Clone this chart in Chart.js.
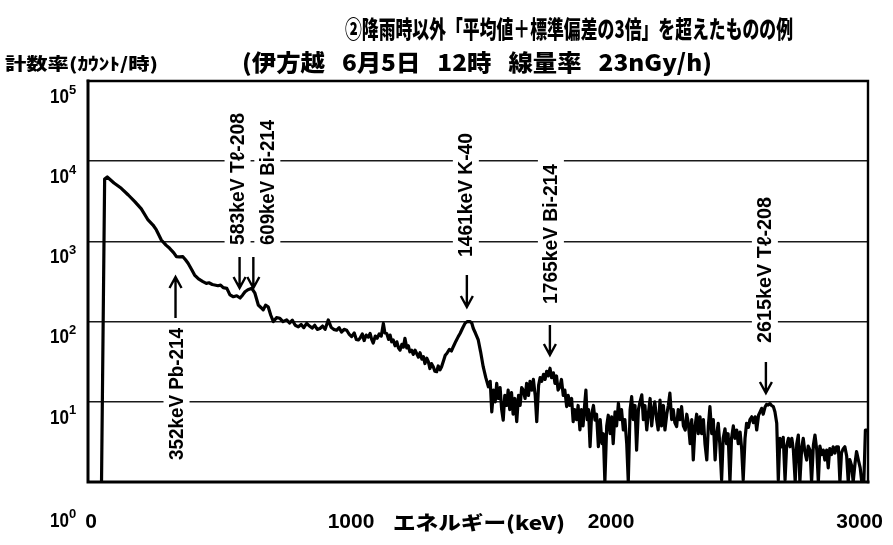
<!DOCTYPE html>
<html>
<head>
<meta charset="utf-8">
<script src="https://cdn.jsdelivr.net/npm/chart.js@4/dist/chart.umd.min.js"></script>
<style>
  html, body { margin: 0; padding: 0; background: #fff; }
  #wrap { width: 893px; height: 545px; position: relative; }
</style>
</head>
<body>
<div id="wrap"><canvas id="spectrum" width="893" height="545"></canvas></div>
<script>
// ---- text ----
const chartTitle = '②降雨時以外「平均値＋標準偏差の3倍」を超えたものの例';
const chartSubtitle = '(伊方越　6月5日　12時　線量率　23nGy/h)';
const yAxisTitle = '計数率(ｶｳﾝﾄ/時)';
const xAxisTitle = 'エネルギー(keV)';

// ---- axes ----
const xTickValues = [0, 1000, 2000, 3000];
const yTickExponents = [0, 1, 2, 3, 4, 5];

// ---- identified peaks ----
const peakNames = ['352keV Pb-214', '583keV Tℓ-208', '609keV Bi-214', '1461keV K-40', '1765keV Bi-214', '2615keV Tℓ-208'];
const peakEnergies = [352, 583, 609, 1461, 1765, 2615];

// ---- spectrum: energy (keV) and count rate (counts/h) ----
const energyKeV = [
  52, 64, 74, 100, 128, 155, 180, 205, 231, 250, 263, 282, 300, 314, 330, 340, 352, 365, 375, 385,
  398, 410, 425, 442, 455, 465, 478, 487, 500, 510, 520, 534, 546, 559, 572, 585, 595, 604, 615, 630,
  642, 655, 665, 674, 683, 693, 703, 713, 725, 738, 750, 764, 775, 786, 797, 809, 820, 830, 841, 852,
  862, 872, 882, 892, 902, 912, 924, 935, 945, 956, 966, 975, 985, 995, 1004, 1014, 1024, 1032, 1040, 1046,
  1055, 1062, 1070, 1078, 1085, 1091, 1097, 1105, 1112, 1120, 1128, 1136, 1142, 1149, 1156, 1162, 1168, 1174, 1181, 1188,
  1194, 1200, 1207, 1213, 1219, 1226, 1232, 1238, 1245, 1251, 1258, 1264, 1271, 1277, 1284, 1290, 1296, 1303, 1309, 1315,
  1321, 1328, 1334, 1341, 1347, 1354, 1360, 1368, 1374, 1380, 1390, 1398, 1405, 1415, 1424, 1431, 1440, 1450, 1458, 1469,
  1476, 1482, 1490, 1501, 1510, 1520, 1530, 1540, 1547, 1553, 1560, 1566, 1572, 1578, 1585, 1591, 1597, 1603, 1610, 1616,
  1622, 1629, 1635, 1642, 1649, 1656, 1662, 1668, 1674, 1681, 1687, 1694, 1700, 1707, 1713, 1720, 1726, 1733, 1739, 1745,
  1752, 1758, 1764, 1770, 1777, 1783, 1790, 1796, 1802, 1808, 1815, 1821, 1828, 1834, 1841, 1847, 1853, 1860, 1866, 1872,
  1879, 1885, 1892, 1898, 1904, 1910, 1915, 1920, 1925, 1931, 1937, 1944, 1950, 1956, 1963, 1970, 1977, 1982, 1988, 1995,
  2001, 2008, 2014, 2020, 2027, 2033, 2040, 2046, 2052, 2059, 2065, 2072, 2078, 2085, 2091, 2097, 2104, 2110, 2117, 2123,
  2130, 2136, 2142, 2149, 2155, 2162, 2168, 2174, 2180, 2187, 2193, 2200, 2206, 2213, 2219, 2226, 2232, 2238, 2245, 2251,
  2257, 2264, 2270, 2277, 2283, 2290, 2297, 2303, 2309, 2316, 2322, 2328, 2335, 2341, 2347, 2354, 2360, 2367, 2373, 2380,
  2386, 2392, 2399, 2405, 2412, 2418, 2424, 2430, 2437, 2443, 2450, 2456, 2462, 2469, 2475, 2482, 2488, 2495, 2501, 2508,
  2514, 2520, 2527, 2533, 2540, 2546, 2553, 2559, 2566, 2572, 2579, 2585, 2591, 2597, 2604, 2610, 2616, 2623, 2629, 2636,
  2642, 2649, 2655, 2661, 2668, 2674, 2681, 2687, 2694, 2700, 2707, 2713, 2720, 2726, 2732, 2738, 2745, 2751, 2757, 2764,
  2770, 2777, 2783, 2790, 2796, 2803, 2809, 2815, 2822, 2828, 2834, 2841, 2847, 2853, 2860, 2866, 2873, 2879, 2886, 2892,
  2898, 2905, 2911, 2918, 2924, 2930, 2937, 2943, 2950, 2956, 2963, 2970, 2976, 2984, 2990, 3000
];
const countRate = [
  1, 6000, 6350, 5350, 4590, 3790, 3130, 2540, 1850, 1600, 1390, 1040, 900, 820, 720, 645, 640, 645, 590, 533,
  450, 381, 340, 315, 300, 305, 290, 286, 280, 285, 265, 260, 215, 204, 210, 197, 215, 236, 250, 260,
  226, 161, 150, 140, 160, 153, 120, 100, 112, 110, 100, 105, 96, 104, 90, 86, 92, 84, 95, 88,
  83, 90, 80, 82, 88, 80, 105, 85, 80, 78, 84, 74, 80, 78, 70, 65, 72, 60, 59, 62,
  70, 58, 68, 64, 71, 60, 54, 66, 62, 70, 66, 95, 72, 71, 60, 68, 56, 59, 50, 56,
  47, 44, 52, 48, 62, 47, 50, 42, 44, 39, 44, 40, 36, 41, 34, 36.5, 30, 35, 31.6, 26,
  30, 27.4, 24, 23.7, 28, 25, 27.4, 33, 38, 40, 45, 43, 48.6, 57, 65, 71, 82, 95, 100, 100,
  96, 82, 72, 59, 42, 27.4, 20, 15.4, 18, 7.5, 14, 10, 17, 11, 15, 8, 5.9, 12, 9, 14,
  8, 13, 7, 11, 5.65, 12, 9, 15, 14, 11, 17, 12, 18, 14, 19, 12, 5.65, 16, 20, 18,
  22, 19, 24, 21, 26.2, 20, 23, 17, 21, 14, 15.4, 19, 12, 14, 8.7, 12, 9, 11, 5.65, 8,
  6, 9, 4.45, 8, 5, 9, 14, 6, 8, 2.75, 7, 9, 5.9, 7, 2.75, 6, 3, 4, 1, 5,
  6.8, 4, 6.5, 3, 7.5, 5, 9.6, 6, 8, 4.45, 6, 3, 1, 8, 11.6, 6, 9, 2.5, 8, 10,
  12.2, 6, 9, 4.45, 7, 11, 5, 7.9, 10, 6, 4.45, 10.5, 5, 9, 4.45, 7, 9, 12.8, 6, 8,
  5.5, 4.9, 8, 6, 8.7, 5, 4.45, 7, 5.4, 3, 6, 1.88, 5, 7, 4, 6.5, 4, 6, 3, 1.88,
  5, 8.7, 4, 6, 1.88, 4, 5.4, 3, 1.06, 3.5, 4.6, 3, 4, 1, 3.5, 5, 3.5, 4.45, 3, 4.2,
  2.6, 1.06, 3.5, 5.4, 4.8, 6, 6.5, 5.5, 6.5, 4.45, 6.8, 7.5, 8.3, 7, 8.6, 9.3, 9.1, 9.5, 9, 8.7,
  7.5, 5.4, 1.06, 3.5, 2.75, 3.6, 1.06, 2.8, 3.5, 2.75, 3.5, 2.5, 1, 3, 3.85, 1, 2.7, 3.5, 2.4, 1.88,
  2.8, 2.5, 1, 2.9, 3.85, 2.5, 1, 2.8, 2.2, 2.5, 1.88, 2.5, 1.5, 2.6, 2.2, 2.75, 2.3, 2.75, 2.75, 1,
  2.3, 2.6, 2.75, 2.1, 1, 1.9, 1.6, 1, 1.7, 2.4, 1.88, 1.5, 1, 1, 4.45, 4.45
];

// ---- drawing helpers ----
const INK = '#000';
const CJK = '"Noto Sans CJK JP", "Noto Sans", sans-serif';
const LATIN = '"Liberation Sans", Arial, sans-serif';

// draw text squeezed/stretched to a given width, left edge at x, vertical middle at y
function fitText(ctx, text, x, y, width) {
  const w = ctx.measureText(text).width;
  ctx.save();
  ctx.translate(x, y);
  ctx.scale(width / w, 1);
  ctx.textAlign = 'left';
  ctx.textBaseline = 'middle';
  ctx.fillText(text, 0, 0);
  ctx.restore();
}

// same, but the space-separated groups are laid out with a fixed gap between them
function fitGroups(ctx, text, sep, x, y, width, gap) {
  const parts = text.split(sep);
  const widths = parts.map(p => ctx.measureText(p).width);
  const total = widths.reduce((s, w) => s + w, 0);
  const k = (width - gap * (parts.length - 1)) / total;
  let cx = x;
  parts.forEach((p, i) => {
    ctx.save();
    ctx.translate(cx, y);
    ctx.scale(k, 1);
    ctx.textAlign = 'left';
    ctx.textBaseline = 'middle';
    ctx.fillText(p, 0, 0);
    ctx.restore();
    cx += widths[i] * k + gap;
  });
}

function drawArrow(ctx, x, yFrom, yTo) {
  const dir = Math.sign(yTo - yFrom);
  ctx.beginPath();
  ctx.moveTo(x, yFrom);
  ctx.lineTo(x, yTo);
  ctx.moveTo(x - 6, yTo - dir * 11);
  ctx.lineTo(x, yTo);
  ctx.lineTo(x + 6, yTo - dir * 11);
  ctx.stroke();
}

// label placement for each peak: pixel nudges, text foot, text length and arrow span
const peakLayout = [
  { dxArrow: -4, dxText: -3, textBottom: 460, textLen: 132, arrowFrom: 318, arrowTo: 277 },
  { dxArrow: 0,  dxText: -2, textBottom: 245, textLen: 132, arrowFrom: 257, arrowTo: 288 },
  { dxArrow: 7,  dxText: 21, textBottom: 245, textLen: 125, arrowFrom: 257, arrowTo: 288 },
  { dxArrow: -1, dxText: -2, textBottom: 257, textLen: 124, arrowFrom: 275, arrowTo: 307 },
  { dxArrow: 3,  dxText: 4,  textBottom: 304, textLen: 140, arrowFrom: 325, arrowTo: 355 },
  { dxArrow: -2, dxText: -3, textBottom: 343, textLen: 146, arrowFrom: 362, arrowTo: 393 }
];

const decorPlugin = {
  id: 'decor',
  afterDatasetsDraw(chart) {
    const { ctx, chartArea: a, scales } = chart;
    const xs = scales.x, ys = scales.y;
    ctx.save();
    ctx.fillStyle = INK;
    ctx.strokeStyle = INK;

    // peak annotations (rotated, reading upward, on a white backing)
    ctx.font = 'bold 20px ' + LATIN;
    peakNames.forEach((name, i) => {
      const L = peakLayout[i];
      const px = xs.getPixelForValue(peakEnergies[i]);
      const tx = px + L.dxText;
      const k = L.textLen / ctx.measureText(name).width;
      ctx.fillStyle = '#fff';
      ctx.fillRect(tx - 13, L.textBottom - L.textLen - 4, 26, L.textLen + 8);
      ctx.fillStyle = INK;
      ctx.save();
      ctx.translate(tx, L.textBottom);
      ctx.rotate(-Math.PI / 2);
      ctx.scale(k, 1);
      ctx.textAlign = 'left';
      ctx.textBaseline = 'middle';
      ctx.fillText(name, 0, 1);
      ctx.restore();
      ctx.lineWidth = 2.4;
      drawArrow(ctx, px + L.dxArrow, L.arrowFrom, L.arrowTo);
    });

    // plot frame
    ctx.lineCap = 'square';
    ctx.lineWidth = 3;
    ctx.beginPath();
    ctx.moveTo(a.left, a.top); ctx.lineTo(a.left, a.bottom); ctx.lineTo(a.right, a.bottom);
    ctx.stroke();
    ctx.lineWidth = 2.4;
    ctx.beginPath();
    ctx.moveTo(a.left, a.top); ctx.lineTo(a.right, a.top); ctx.lineTo(a.right, a.bottom);
    ctx.stroke();

    // y tick labels (10^k)
    yTickExponents.forEach(k => {
      let y = ys.getPixelForValue(Math.pow(10, k)) + 16;
      if (k === 0) y = 521;
      ctx.font = 'bold 21px ' + LATIN;
      fitText(ctx, '10', 50, y, 19);
      ctx.font = 'bold 13px ' + LATIN;
      ctx.textAlign = 'left';
      ctx.textBaseline = 'middle';
      ctx.fillText(String(k), 69, y - 7);
    });

    // x tick labels
    ctx.font = 'bold 21px ' + LATIN;
    ctx.textAlign = 'center';
    ctx.textBaseline = 'middle';
    xTickValues.forEach(v => {
      let x = xs.getPixelForValue(v) + 3;
      const w = ctx.measureText(String(v)).width;
      if (x + w / 2 > 883) x = 883 - w / 2;
      ctx.fillText(String(v), x, 522);
    });

    // titles
    ctx.font = '900 24px ' + CJK;
    fitText(ctx, chartTitle, 345, 29, 448);
    ctx.font = '900 23px ' + CJK;
    fitGroups(ctx, chartSubtitle, '　', 242, 62, 470, 17);
    ctx.font = '900 17px ' + CJK;
    fitText(ctx, yAxisTitle, 5, 64, 153);
    ctx.font = '900 19px ' + CJK;
    fitText(ctx, xAxisTitle, 393, 523, 172);
    ctx.restore();
  }
};

const points = energyKeV.map((e, i) => ({ x: e, y: countRate[i] }));

new Chart(document.getElementById('spectrum'), {
  type: 'line',
  data: {
    datasets: [{
      data: points,
      borderColor: INK,
      borderWidth: 3.2,
      borderJoinStyle: 'round',
      pointRadius: 0,
      tension: 0,
      fill: false
    }]
  },
  options: {
    responsive: false,
    animation: false,
    events: [],
    layout: { padding: { left: 88, right: 25, top: 81, bottom: 63 } },
    plugins: { legend: { display: false }, tooltip: { enabled: false }, title: { display: false } },
    scales: {
      x: {
        type: 'linear', min: 0, max: 3000,
        grid: { display: false, drawTicks: false },
        border: { display: false },
        ticks: { display: false }
      },
      y: {
        type: 'logarithmic', min: 1, max: 100000,
        grid: { color: '#1a1a1a', lineWidth: 1.6, drawTicks: false },
        border: { display: false },
        ticks: { display: false },
        afterBuildTicks: s => { s.ticks = yTickExponents.map(k => ({ value: Math.pow(10, k) })); }
      }
    }
  },
  plugins: [decorPlugin]
});
</script>
</body>
</html>
